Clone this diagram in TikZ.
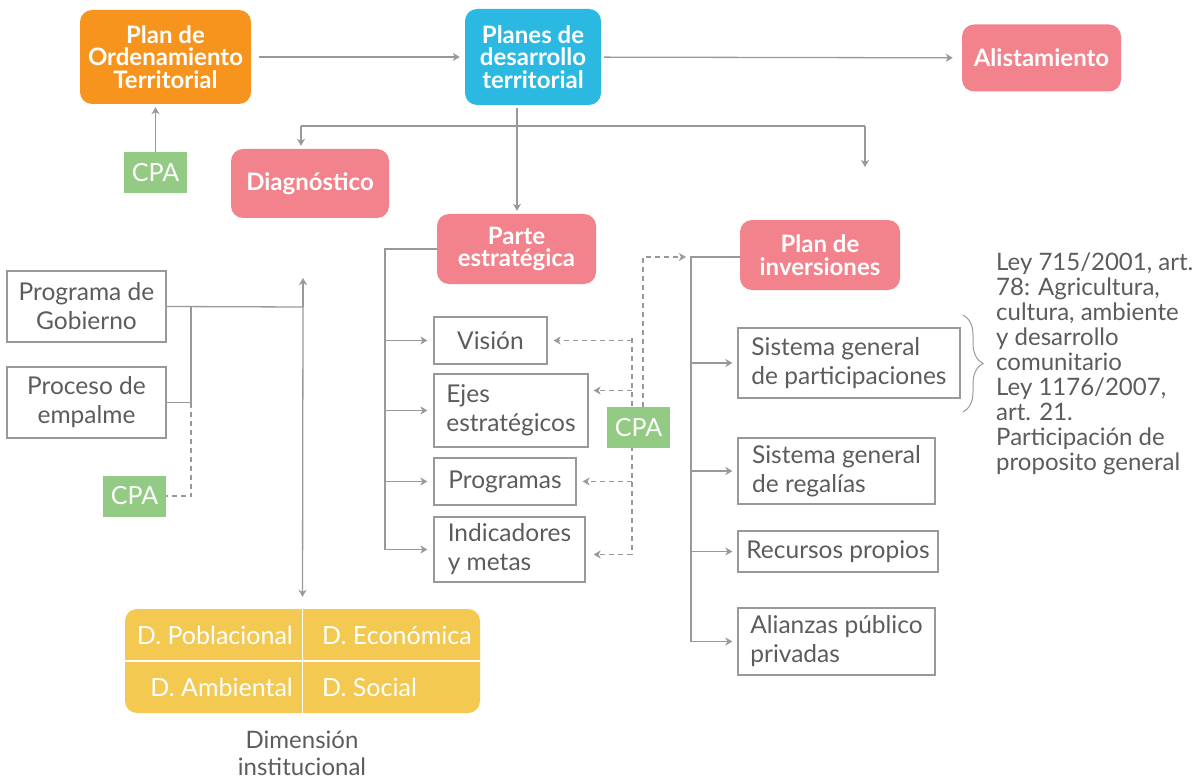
\documentclass[tikz,border=0pt]{standalone}
\usepackage{fontspec}
\setmainfont{Lato}
\usetikzlibrary{arrows.meta,decorations.pathreplacing}

\definecolor{potorange}{HTML}{F7941D}
\definecolor{pdtblue}{HTML}{2BB9E2}
\definecolor{stagepink}{HTML}{F2828C}
\definecolor{cpagreen}{HTML}{93CB84}
\definecolor{dimyellow}{HTML}{F4C952}
\definecolor{linegray}{HTML}{999999}
\definecolor{textgray}{HTML}{5C5C5C}

\tikzset{
  stage/.style={rounded corners=12pt, fill=#1, text=white, align=center,
    inner sep=0pt, font=\fontsize{24}{22.5}\selectfont\bfseries},
  cpa/.style={fill=cpagreen, text=white, minimum width=63pt,
    minimum height=41pt, inner sep=0pt, font=\fontsize{25}{25}\selectfont},
  itembox/.style={draw=linegray, line width=1.2pt, text=textgray,
    inner sep=0pt, font=\fontsize{24.5}{29}\selectfont},
  conn/.style={draw=linegray, line width=1.3pt},
  arr/.style={conn, -{Stealth[length=7pt,width=8pt,inset=2pt]}},
  dasharr/.style={arr, dash pattern=on 5pt off 4pt},
}

\begin{document}
\begin{tikzpicture}[x=1pt,y=-1pt]
  \useasboundingbox (0,0) rectangle (1203,781);

  % top row
  \node[stage=potorange, minimum width=171pt, minimum height=94pt] (pot) at (165.5,57) {Plan de\\Ordenamiento\\Territorial};
  \node[stage=pdtblue, minimum width=136pt, minimum height=96pt] (pdt) at (533,57) {Planes de\\desarrollo\\territorial};
  \node[stage=stagepink, minimum width=159pt, minimum height=67pt] (alist) at (1041.5,58) {Alistamiento};
  \node[cpa] (cpa1) at (155.5,172.5) {CPA};
  \node[stage=stagepink, minimum width=158pt, minimum height=69pt] (diag) at (310,183.5) {Diagnóstico};
  \node[stage=stagepink, minimum width=159pt, minimum height=70pt] (parte) at (516.5,249) {Parte\\estratégica};
  \node[stage=stagepink, minimum width=160pt, minimum height=70pt] (inver) at (820,255) {Plan de\\inversiones};

  % left column
  \node[itembox, minimum width=159pt, minimum height=71pt, align=center] (progob) at (86.5,306.5) {Programa de\\Gobierno};
  \node[itembox, minimum width=159pt, minimum height=71pt, align=center] (empalme) at (86.5,402.5) {Proceso de\\empalme};
  \node[cpa] (cpa3) at (134.5,496) {CPA};

  % parte estrategica
  \node[itembox, minimum width=113pt, minimum height=47pt] (vision) at (490.5,340.5) {Visión};
  \node[itembox, minimum width=154pt, minimum height=73pt, align=left] (ejes) at (511,410.5) {Ejes\\estratégicos};
  \node[itembox, minimum width=142pt, minimum height=47pt] (programas) at (505,481.5) {Programas};
  \node[itembox, minimum width=151pt, minimum height=65pt, align=left] (indic) at (509.5,549.5) {Indicadores\\y metas};

  % plan de inversiones
  \node[itembox, minimum width=222pt, minimum height=70pt, align=left] (sgp) at (849,363) {Sistema general\\de participaciones};
  \node[itembox, minimum width=197pt, minimum height=66pt, align=left] (sgr) at (836.5,471) {Sistema general\\de regalías};
  \node[itembox, minimum width=200pt, minimum height=41pt] (recursos) at (838,551.5) {Recursos propios};
  \node[itembox, minimum width=197pt, minimum height=67pt, align=left] (alianzas) at (836.5,641.5) {Alianzas público\\privadas};
  \node[anchor=north west, align=left, inner sep=0pt, text=textgray,
    font=\fontsize{24}{24.9}\selectfont] (ley) at (996,253)
    {Ley 715/2001, art.\\78: Agricultura,\\cultura, ambiente\\y desarrollo\\comunitario\\Ley 1176/2007,\\art. 21.\\Participación de\\proposito general};

  % dimensiones
  \node[rounded corners=12pt, fill=dimyellow, minimum width=355pt, minimum height=104pt] (dims) at (302.5,661) {};
  \draw[white, line width=1.5pt] (dims.north) -- (dims.south);
  \draw[white, line width=1.5pt] (dims.west) -- (dims.east);
  \begin{scope}[every node/.style={text=white, inner sep=0pt, font=\fontsize{25}{25}\selectfont}]
    \node[anchor=east] (pobl) at (293,635) {D. Poblacional};
    \node[anchor=west] (econ) at (322,635) {D. Económica};
    \node[anchor=east] (amb) at (293,687) {D. Ambiental};
    \node[anchor=west] (soc) at (322,687) {D. Social};
  \end{scope}
  \node[align=center, text=textgray, inner sep=0pt, font=\fontsize{24}{27}\selectfont] (inst) at (302,753) {Dimensión\\institucional};

  % junction points
  \coordinate (bj) at (517,126);
  \coordinate (dj) at (301,126);
  \coordinate (rj) at (865,126);
  \coordinate (rend) at (865,167);
  \coordinate (lj) at (191,307);
  \coordinate (vj) at (303,307);
  \coordinate (upend) at (303,278);
  \coordinate (lbar) at (385,249);
  \coordinate (rbar) at (691,257);
  \coordinate (dbar) at (632,338);
  \coordinate (ubar) at (643,257);

  % solid connectors
  \draw[arr, shorten <=8pt, shorten >=5pt] (pot) -- (pdt);
  \draw[arr, shorten <=3pt, shorten >=9pt] (pdt) -- (alist);
  \draw[arr, shorten >=3pt] (cpa1.north) -- (cpa1.north |- pot.south);
  \draw[arr, shorten <=3pt, shorten >=3pt] (pdt.south -| bj) -- (bj |- parte.north);
  \draw[conn] (dj) -- (rj);
  \draw[arr, shorten >=3pt] (dj) -- (dj |- diag.north);
  \draw[arr] (rj) -- (rend);

  \draw[conn] (progob.east) -- (vj);
  \draw[conn] (lj) |- (empalme.east);
  \draw[arr] (vj) -- (upend);
  \draw[arr, shorten >=12pt] (vj) -- (dims.north);

  \draw[conn] (parte.west) -- (lbar) -- (lbar |- indic.west);
  \foreach \b in {vision, ejes, programas, indic}
    \draw[arr, shorten >=6pt] (lbar |- \b.west) -- (\b.west);

  \draw[conn] (inver.west |- rbar) -- (rbar) -- (rbar |- alianzas.west);
  \foreach \b in {sgp, sgr, recursos, alianzas}
    \draw[arr, shorten >=5pt] (rbar |- \b.west) -- (\b.west);

  % dashed connectors
  \draw[conn, dash pattern=on 5pt off 4pt] (lj |- empalme.east) |- (cpa3.east);
  \draw[conn, dash pattern=on 5pt off 4pt] (dbar) -- ([yshift=-5pt]indic.east -| dbar);
  \draw[dasharr, shorten >=6pt] (dbar |- vision.east) -- (vision.east);
  \draw[dasharr, shorten >=5pt] ([yshift=20pt]ejes.east -| dbar) -- ([yshift=20pt]ejes.east);
  \draw[dasharr, shorten >=6pt] (dbar |- programas.east) -- (programas.east);
  \draw[dasharr, shorten >=8pt] ([yshift=-5pt]indic.east -| dbar) -- ([yshift=-5pt]indic.east);
  \node[cpa] (cpa2) at (638.5,427.5) {CPA};
  \draw[dasharr, shorten >=5pt] (ubar |- cpa2.north) -- (ubar) -- (rbar);

  % brace
  \draw[linegray, line width=1pt, decorate, decoration={brace, amplitude=20pt}] (963,315) -- (963,412);
\end{tikzpicture}
\end{document}
